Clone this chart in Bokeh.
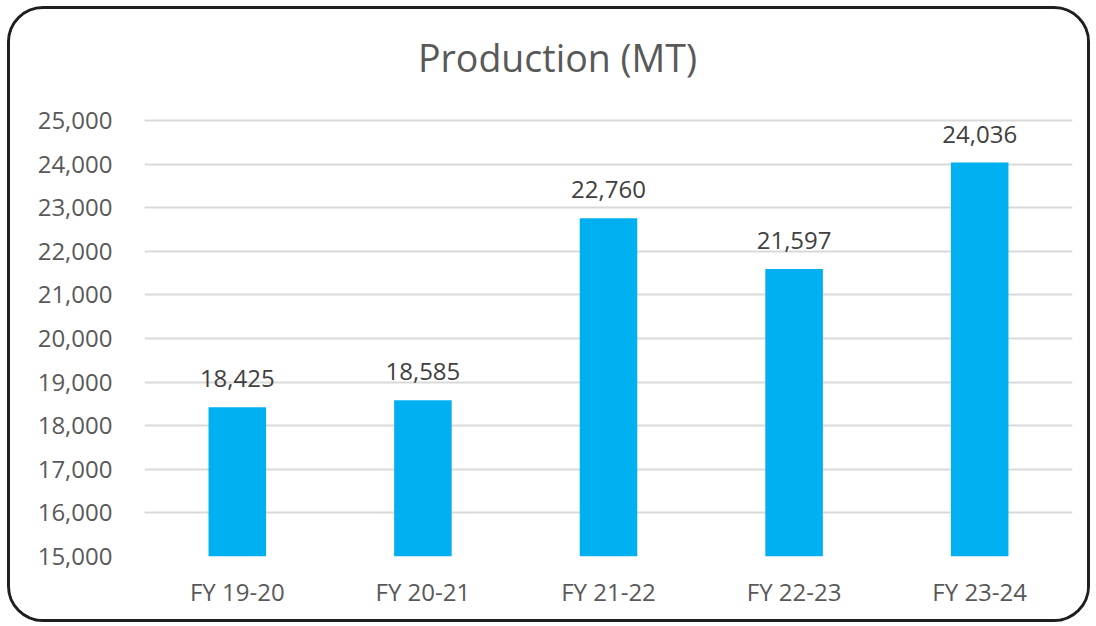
from bokeh.plotting import figure
from bokeh.models import ColumnDataSource, LabelSet, Label, FixedTicker, NumeralTickFormatter, FactorRange, Range1d
from bokeh.core.properties import value
from bokeh.embed import file_html
from bokeh.resources import INLINE

categories = ["FY 19-20", "FY 20-21", "FY 21-22", "FY 22-23", "FY 23-24"]
production = [18425, 18585, 22760, 21597, 24036]
y_ticks = [15000, 16000, 17000, 18000, 19000, 20000, 21000, 22000, 23000, 24000, 25000]
title_text = "Production (MT)"

FONT = "Open Sans"

src = ColumnDataSource(dict(
    cat=categories,
    val=production,
    lbl=[f"{v:,}" for v in production],
))

# the range extends above the last tick to leave room for the title inside the frame
p = figure(
    width=1083, height=616,
    x_range=FactorRange(*categories, range_padding=0),
    y_range=Range1d(15000, 27317),
    output_backend="svg", toolbar_location=None,
    min_border_left=134, min_border_right=21, min_border_top=10, min_border_bottom=69,
)
p.styles = {"border": "3px solid #1f1f1f", "border-radius": "36px", "overflow": "hidden",
            "margin-left": "7px", "margin-top": "6px"}

title = Label(x=2.225, y=26444, text=title_text,
              text_align="center", text_baseline="alphabetic",
              text_font=FONT, text_font_size="37.5px", text_color="#595959")
p.add_layout(title)

p.vbar(x="cat", top="val", bottom=15000, width=0.31, source=src,
       fill_color="#00B0F0", line_color=None)

labels = LabelSet(x="cat", y="val", text="lbl", source=src, y_offset=20,
                  text_align="center", text_baseline="alphabetic",
                  text_font=value(FONT), text_font_size="24px", text_color="#404040")
p.add_layout(labels)

p.outline_line_color = None
p.xgrid.grid_line_color = None
p.ygrid.grid_line_color = "#D9D9D9"
p.ygrid.grid_line_width = 2

p.yaxis.ticker = FixedTicker(ticks=y_ticks)
p.yaxis.formatter = NumeralTickFormatter(format="0,0")

for ax in (p.xaxis, p.yaxis):
    ax.axis_line_color = None
    ax.major_tick_line_color = None
    ax.minor_tick_line_color = None
    ax.major_label_text_font = FONT
    ax.major_label_text_font_size = "24px"
    ax.major_label_text_color = "#595959"

p.yaxis.major_label_standoff = 26
p.xaxis.major_label_standoff = 12

open("out.html", "w").write(file_html(p, INLINE))
